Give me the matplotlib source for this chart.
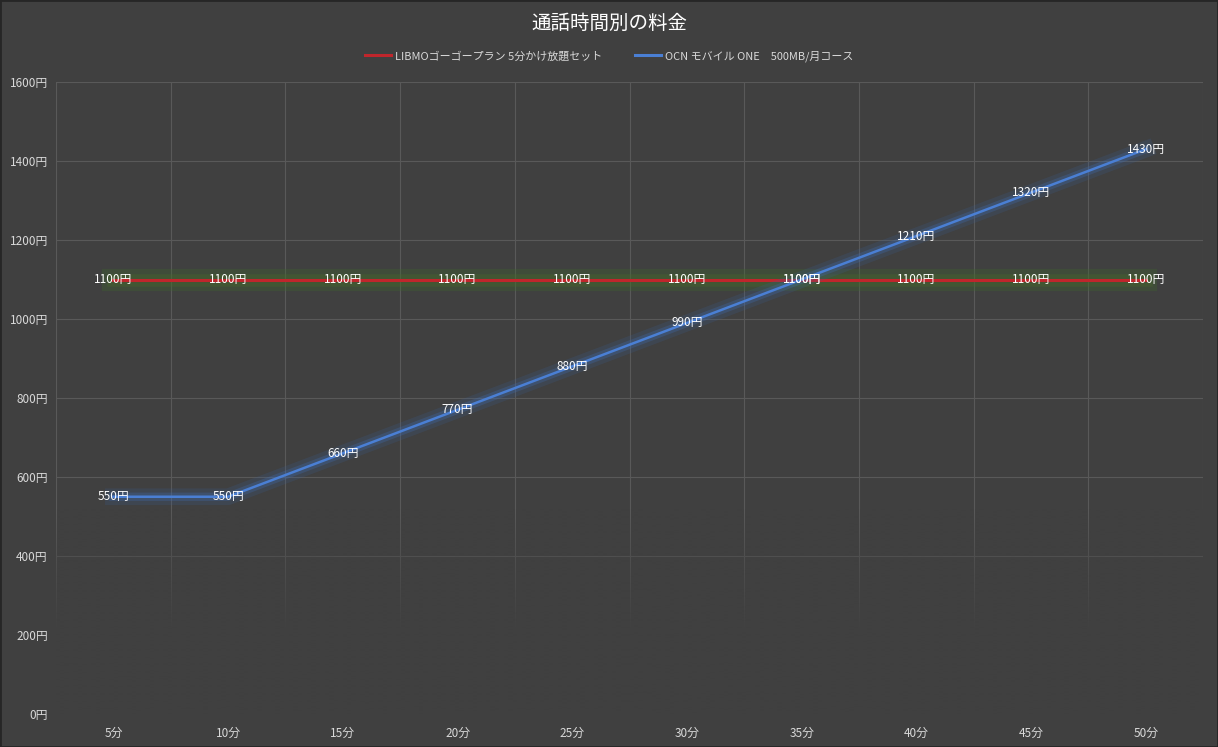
import matplotlib
matplotlib.use("Agg")
import matplotlib.pyplot as plt
import matplotlib.patheffects as pe
import numpy as np

plt.rcParams['font.family'] = ['Noto Sans CJK JP', 'DejaVu Sans']

# データ
minutes = ['5分', '10分', '15分', '20分', '25分', '30分', '35分', '40分', '45分', '50分']
libmo = [1100, 1100, 1100, 1100, 1100, 1100, 1100, 1100, 1100, 1100]
ocn = [550, 550, 660, 770, 880, 990, 1100, 1210, 1320, 1430]
libmo_name = 'LIBMOゴーゴープラン 5分かけ放題セット'
ocn_name = 'OCN モバイル ONE　500MB/月コース'
yticks = [0, 200, 400, 600, 800, 1000, 1200, 1400, 1600]

bg = '#404040'
fg = '#d9d9d9'

fig = plt.figure(figsize=(12.18, 7.47), dpi=100, facecolor=bg)
ax = fig.add_axes([0.046, 0.0442, 0.9418, 0.846])
ax.set_facecolor(bg)

x = np.arange(len(minutes))

# 目盛・グリッド
ax.set_xlim(-0.5, len(minutes) - 0.5)
ax.set_ylim(0, 1600)
ax.set_xticks(x)
ax.set_xticklabels(minutes)
ax.set_xticks(np.arange(-0.5, len(minutes)), minor=True)
ax.set_yticks(yticks)
ax.set_yticklabels([f'{v}円' for v in yticks])
ax.tick_params(which='both', length=0, colors=fg, labelsize=8.5)
ax.tick_params(axis='x', pad=9)
ax.tick_params(axis='y', pad=6)
ax.grid(True, axis='y', which='major', color='#595959', lw=0.8)
ax.grid(True, axis='x', which='minor', color='#595959', lw=0.8)
ax.set_axisbelow(True)
for s in ax.spines.values():
    s.set_visible(False)

# 下部のフェード
fade = np.zeros((200, 1, 4))
fade[..., :3] = matplotlib.colors.to_rgb(bg)
a = np.linspace(0, 1, 200)
fade[:, 0, 3] = np.clip(a / 0.6, 0, 1)
ax.imshow(fade, extent=(-0.5, len(minutes) - 0.5, 0, 520), aspect='auto',
          origin='upper', interpolation='bilinear', zorder=1.5)

# 線
ax.plot(x, libmo, color='#c0262c', lw=2.2, zorder=3, label=libmo_name,
        path_effects=[pe.Stroke(linewidth=16, foreground='#3d6b2a', alpha=0.3),
                      pe.Stroke(linewidth=9, foreground='#4a6a2a', alpha=0.35),
                      pe.Normal()])
ax.plot(x, ocn, color='#4a7fd4', lw=1.8, zorder=4, label=ocn_name,
        path_effects=[pe.Stroke(linewidth=12, foreground='#3a5f9a', alpha=0.2),
                      pe.Stroke(linewidth=6, foreground='#3f6bb0', alpha=0.3),
                      pe.Normal()])

# データラベル
for xi, v in zip(x, libmo):
    ax.text(xi, v, f'{v}円', ha='center', va='center', color='white',
            fontsize=8.5, zorder=5)
for xi, v in zip(x, ocn):
    ax.text(xi, v, f'{v}円', ha='center', va='center', color='white',
            fontsize=8.5, zorder=5)

fig.text(0.5, 0.968, '通話時間別の料金', ha='center', va='center',
         color='white', fontsize=14)

leg = fig.legend(loc='center', bbox_to_anchor=(0.5, 0.925), ncol=2, frameon=False,
                 fontsize=7.9, labelcolor=fg, handlelength=2.4, handletextpad=0.3,
                 columnspacing=3.0)
for h in leg.legend_handles:
    h.set_path_effects([])
    h.set_linewidth(2.2)

# 外枠
fig.patches.append(plt.Rectangle((0, 0), 1, 1, transform=fig.transFigure,
                                 fill=False, edgecolor='#262626', lw=2))

fig.savefig('out.png', dpi=100, facecolor=bg)
